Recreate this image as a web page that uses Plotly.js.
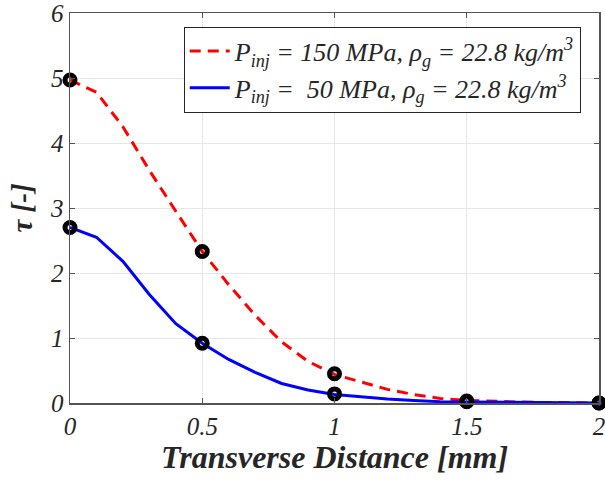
<!DOCTYPE html>
<html>
<head>
<meta charset="utf-8">
<script src="https://cdn.plot.ly/plotly-3.0.1.min.js"></script>
<style>html,body{margin:0;padding:0;background:#fff;}#chart{width:605px;height:486px;}</style>
</head>
<body>
<div id="chart"></div>
<script>
const xDist = [0,0.1,0.2,0.3,0.4,0.5,0.6,0.7,0.8,0.9,1.0,1.1,1.2,1.3,1.4,1.5,1.6,1.7,1.8,1.9,2.0];
const tau150 = [4.97,4.78,4.25,3.58,2.95,2.33,1.82,1.35,0.94,0.64,0.44,0.32,0.21,0.13,0.07,0.04,0.025,0.015,0.008,0.004,0.0];
const tau50 = [2.70,2.55,2.18,1.67,1.22,0.92,0.67,0.47,0.30,0.20,0.13,0.09,0.06,0.04,0.02,0.015,0.01,0.005,0.003,0.001,0.0];
const xMarks = [0,0.5,1.0,1.5,2.0];
const mark150 = [4.97,2.33,0.45,0.03,0.0];
const mark50 = [2.70,0.92,0.14,0.02,0.0];
const name150 = "<i>P<sub>inj</sub> = 150 MPa, ρ<sub>g</sub> = 22.8 kg/m<sup>3</sup></i>";
const name50 = "<i>P<sub>inj</sub> =  50 MPa, ρ<sub>g</sub> = 22.8 kg/m<sup>3</sup></i>";
const xTicks = [0,0.5,1,1.5,2];
const xTickText = ["0","0.5","1","1.5","2"];
const yTicks = [0,1,2,3,4,5,6];

const markerStyle = {symbol:'circle-open', size:10, color:'#000', line:{width:5, color:'#000'}};
const traces = [
  {x:xDist, y:tau150, mode:'lines', name:name150, line:{color:'#ff0000', width:3, dash:'11px,7px'}},
  {x:xDist, y:tau50, mode:'lines', name:name50, line:{color:'#0000ff', width:3}},
  {x:xMarks, y:mark150, mode:'markers', showlegend:false, marker:markerStyle, cliponaxis:false},
  {x:xMarks, y:mark50, mode:'markers', showlegend:false, marker:markerStyle, cliponaxis:false}
];
const fam = 'Liberation Serif, Times New Roman, serif';
const layout = {
  width:605, height:486,
  margin:{l:70, r:6, t:13, b:83},
  paper_bgcolor:'#fff', plot_bgcolor:'#fff',
  font:{family:fam, color:'#262626'},
  showlegend:true,
  legend:{x:0.215, y:0.965, xanchor:'left', yanchor:'top', bgcolor:'#fff', bordercolor:'#262626', borderwidth:1,
    font:{family:fam, size:26, color:'#262626', style:'italic'}, itemwidth:40, tracegroupgap:0},
  xaxis:{range:[0,2], tickvals:xTicks, ticktext:xTickText, showgrid:true, gridcolor:'#e6e6e6', gridwidth:1,
    zeroline:false, showline:true, linecolor:'#555', linewidth:1.5, mirror:'ticks', ticks:'inside', ticklen:5, tickcolor:'#555',
    ticklabeloverflow:'allow',
    tickfont:{family:fam, size:25, color:'#262626', style:'italic'},
    title:{text:'<b><i>Transverse Distance [mm]</i></b>', font:{family:fam, size:32, color:'#262626'}, standoff:5}},
  yaxis:{range:[0,6], tickvals:yTicks, showgrid:true, gridcolor:'#e6e6e6', gridwidth:1,
    zeroline:false, showline:true, linecolor:'#555', linewidth:1.5, mirror:'ticks', ticks:'inside', ticklen:5, tickcolor:'#555',
    ticklabeloverflow:'allow',
    tickfont:{family:fam, size:25, color:'#262626', style:'italic'},
    title:{text:'<b><i>τ [-]</i></b>', font:{family:fam, size:29, color:'#262626'}, standoff:9}}
};
Plotly.newPlot('chart', traces, layout, {displayModeBar:false, staticPlot:true});
</script>
</body>
</html>
